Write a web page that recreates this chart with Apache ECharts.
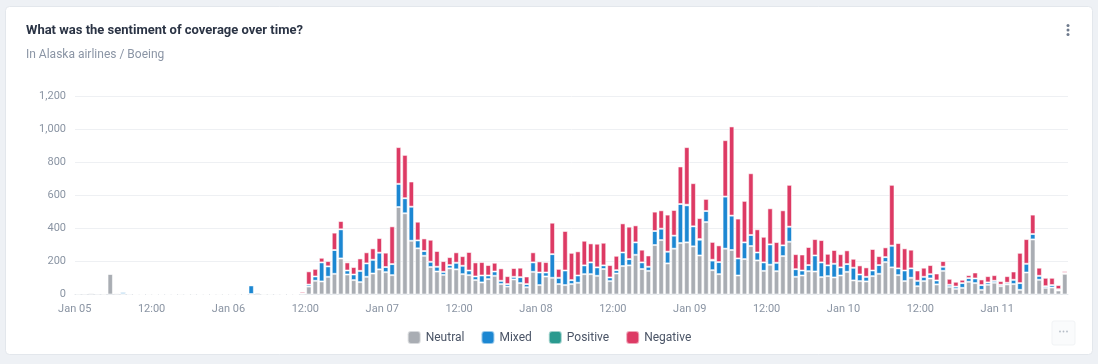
<!DOCTYPE html>
<html>
<head>
<meta charset="utf-8">
<script src="https://cdn.jsdelivr.net/npm/echarts@6/dist/echarts.min.js"></script>
<style>
html,body{margin:0;padding:0;background:#eef1f5;}
#chart{width:1098px;height:364px;}
</style>
</head>
<body>
<div id="chart"></div>
<script>
// Hourly buckets from Jan 05 00:00 (155 hours)
const tickLabels = ['Jan 05','12:00','Jan 06','12:00','Jan 07','12:00','Jan 08','12:00','Jan 09','12:00','Jan 10','12:00','Jan 11'];
const seriesNames = ['Neutral','Mixed','Positive','Negative'];

const neutral = [
4,5,8,5,4,125,8,4,3,2,
2,3,2,2,2,2,2,2,3,2,
2,2,3,2,2,2,2,3,10,4,
4,3,2,2,2,8,48,83,79,107,
125,218,121,87,75,107,127,152,135,117,
529,491,325,279,234,166,139,119,158,152,
123,117,87,73,93,113,63,48,91,69,
44,137,57,109,101,63,57,63,71,123,
123,113,154,81,127,172,176,240,154,143,
299,329,188,277,311,315,291,236,438,147,
123,277,269,115,214,293,206,143,180,141,
232,319,107,115,141,139,105,111,103,115,
137,85,81,79,111,125,196,164,117,81,
101,50,81,97,61,143,46,34,40,77,
69,28,59,71,50,61,63,28,133,333,
89,40,42,24,125];

const mixed = [
4,2,4,2,2,0,2,12,2,0,
0,0,0,0,0,0,2,0,0,0,
0,0,0,0,0,0,0,52,2,0,
0,0,0,0,0,0,12,26,115,63,
144,176,24,34,68,81,83,101,31,67,
140,91,206,48,29,32,29,18,20,40,
51,28,22,42,22,26,20,15,16,36,
19,57,76,24,143,38,88,24,44,53,
71,51,22,22,20,82,38,75,40,25,
85,69,71,79,236,224,121,95,67,58,
73,315,208,103,101,67,48,51,123,51,
65,91,46,30,37,97,89,65,83,49,
47,77,40,28,34,53,30,131,41,64,
57,33,26,26,24,25,13,14,29,22,
28,29,14,12,9,10,26,41,53,33,
24,10,15,8,6];

const positive = [
0,0,0,0,0,0,0,0,0,0,
0,0,0,0,0,0,0,0,0,0,
0,0,0,0,0,0,0,0,0,0,
0,0,0,0,0,0,0,0,0,0,
0,0,0,0,0,0,0,0,0,0,
0,0,0,0,0,0,0,0,0,0,
0,0,0,0,0,0,0,0,0,0,
0,0,0,0,0,0,0,0,0,0,
0,0,0,0,0,0,0,0,0,0,
0,0,0,0,0,4,0,4,0,5,
0,0,0,0,0,0,0,0,0,0,
0,0,0,0,0,0,0,0,0,0,
0,0,0,0,0,0,0,0,0,0,
0,0,0,0,0,0,0,0,0,0,
0,0,0,0,0,0,0,0,0,0,
0,0,0,0,0];

const negative = [
0,4,4,2,0,3,0,0,0,0,
0,0,0,0,3,0,0,0,3,0,
0,0,0,0,0,0,0,0,0,0,
0,2,0,0,0,10,80,46,28,32,
105,50,49,45,75,67,69,88,87,228,
222,262,152,113,76,133,95,65,48,63,
58,112,85,81,63,53,75,48,53,57,
46,61,67,63,190,54,239,165,146,149,
115,143,137,75,87,176,196,103,77,68,
117,111,224,155,227,348,261,127,73,108,
101,341,539,241,251,373,140,155,218,125,
212,253,91,97,109,99,135,70,83,80,
83,54,55,57,130,54,59,368,153,134,
113,62,55,55,42,34,36,29,20,18,
36,34,38,34,22,40,50,183,149,117,
49,51,44,25,10];

const colors = ['#a9adb3','#1c87d2','#2a9a8f','#dd3a64'];
const values = [neutral, mixed, positive, negative];

// hourly category keys
const categories = neutral.map((_, i) => 'h' + i);

const chart = echarts.init(document.getElementById('chart'), null, {renderer:'canvas'});
const FONT = 'Roboto, "Noto Sans", sans-serif';

chart.setOption({
  backgroundColor: '#eef1f5',
  animation: false,
  textStyle: {fontFamily: FONT},
  graphic: [
    {type:'rect', shape:{x:5.5,y:6.5,width:1087,height:348,r:4}, style:{fill:'#ffffff', stroke:'#e3e7ec', lineWidth:1}, z:-10},
    {type:'text', left:26, top:24, style:{text:'What was the sentiment of coverage over time?', font:'bold 13px ' + FONT, fill:'#2b3445'}},
    {type:'text', left:26, top:49, style:{text:'In Alaska airlines / Boeing', font:'12px ' + FONT, fill:'#8b95a5'}},
    {type:'circle', shape:{cx:1068,cy:25.5,r:1.5}, style:{fill:'#6e7a8c'}},
    {type:'circle', shape:{cx:1068,cy:30,r:1.5}, style:{fill:'#6e7a8c'}},
    {type:'circle', shape:{cx:1068,cy:34.5,r:1.5}, style:{fill:'#6e7a8c'}},
    {type:'rect', shape:{x:1052,y:321,width:23,height:24,r:2}, style:{fill:'#fafbfc', stroke:'#f1f3f5'}},
    {type:'circle', shape:{cx:1060,cy:331.5,r:0.9}, style:{fill:'#b5bcc6'}},
    {type:'circle', shape:{cx:1063.5,cy:331.5,r:0.9}, style:{fill:'#b5bcc6'}},
    {type:'circle', shape:{cx:1067,cy:331.5,r:0.9}, style:{fill:'#b5bcc6'}}
  ],
  legend: {
    bottom: 14,
    left: 'center',
    icon: 'roundRect',
    itemWidth: 13,
    itemHeight: 13,
    itemGap: 16,
    textStyle: {color:'#4a5466', fontSize:12, fontFamily: FONT},
    data: seriesNames
  },
  grid: {left:75, right:30, top:96, bottom:69.5, containLabel:false},
  xAxis: {
    type: 'category',
    data: categories,
    boundaryGap: true,
    axisLine: {show:true, lineStyle:{color:'#e3e6ea'}},
    axisTick: {show:false},
    axisLabel: {
      interval: 0,
      color: '#8a94a3',
      fontSize: 11,
      margin: 9,
      padding: [0,7,0,0],
      formatter: function (v, idx) { return idx % 12 === 0 ? tickLabels[idx / 12] : ''; }
    },
    splitLine: {show:false}
  },
  yAxis: {
    type: 'value',
    min: 0, max: 1200, interval: 200,
    axisLine: {show:false},
    axisTick: {show:false},
    axisLabel: {color:'#8a94a3', fontSize:11, margin:9,
      formatter: function (v) { return v.toLocaleString('en-US'); }},
    splitLine: {lineStyle:{color:'#eef0f3'}}
  },
  series: seriesNames.map((name, k) => ({
    name: name,
    type: 'bar',
    stack: 'total',
    data: values[k],
    barCategoryGap: '16%',
    itemStyle: {color: colors[k], borderColor:'rgba(255,255,255,0.55)', borderWidth:1},
    emphasis: {disabled:true}
  }))
});
</script>
</body>
</html>
